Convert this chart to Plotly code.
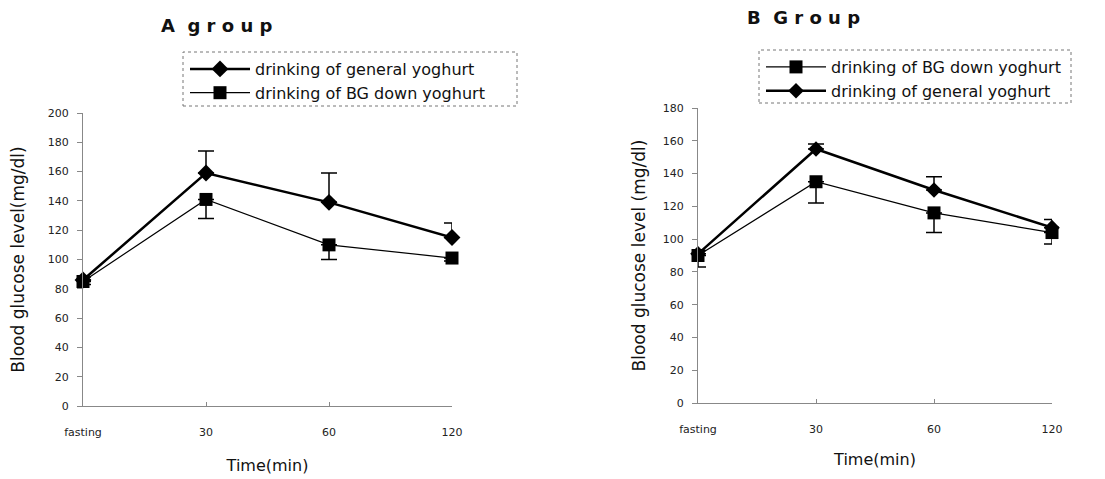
import plotly.graph_objects as go

time_labels = ["fasting", "30", "60", "120"]
x_pos = [0, 1, 2, 3]

# A group
a_general = [86, 159, 139, 115]
a_general_err_up = [2, 15, 20, 10]
a_bg = [85, 141, 110, 101]
a_bg_err_down = [2, 13, 10, 2]

# B group
b_bg = [90, 135, 116, 104]
b_bg_err_down = [7, 13, 12, 7]
b_general = [91, 155, 130, 107]
b_general_err_up = [2, 3, 8, 5]

fig = go.Figure()

def add(x, y, name, symbol, lw, msize, xa, ya, legend, up=None, down=None):
    err = dict(type="data", symmetric=False, color="black", thickness=1.5, width=8,
               array=up if up else [0]*len(y), arrayminus=down if down else [0]*len(y))
    fig.add_trace(go.Scatter(
        x=x, y=y, name=name, mode="lines+markers", xaxis=xa, yaxis=ya, legend=legend,
        line=dict(color="black", width=lw),
        marker=dict(symbol=symbol, size=msize, color="black"),
        error_y=err, cliponaxis=False))

add(x_pos, a_general, "drinking of general yoghurt", "diamond", 2.5, 13, "x", "y", "legend", up=a_general_err_up)
add(x_pos, a_bg, "drinking of BG down yoghurt", "square", 1.2, 13, "x", "y", "legend", down=a_bg_err_down)
add(x_pos, b_bg, "drinking of BG down yoghurt", "square", 1.2, 13, "x2", "y2", "legend2", down=b_bg_err_down)
add(x_pos, b_general, "drinking of general yoghurt", "diamond", 2.5, 12, "x2", "y2", "legend2", up=b_general_err_up)

FONT = "DejaVu Sans"
axfont = dict(family=FONT, size=11, color="#222")
xcommon = dict(range=[0, 3], tickvals=x_pos, ticktext=time_labels, showgrid=False, zeroline=False,
               showline=True, linecolor="#888", linewidth=1, ticks="inside", ticklen=4, tickcolor="#888",
               tickfont=axfont, ticklabelstandoff=16, automargin=False)
ycommon = dict(showgrid=False, zeroline=False, showline=True, linecolor="#888", linewidth=1,
               ticks="outside", ticklen=5, tickcolor="#888", tickfont=axfont, dtick=20,
               ticklabelstandoff=6, automargin=False)

fig.update_layout(
    width=1105, height=479, margin=dict(l=0, r=0, t=0, b=0),
    paper_bgcolor="white", plot_bgcolor="white", showlegend=True,
    xaxis=dict(domain=[83/1105, 452/1105], anchor="y",
               title=dict(text="Time(min)", font=dict(family=FONT, size=16, color="#111"), standoff=21),
               **xcommon),
    yaxis=dict(domain=[1-406/479, 1-113/479], anchor="x", range=[0, 200],
               title=dict(text="Blood glucose level(mg/dl)", font=dict(family=FONT, size=17, color="#111"), standoff=18),
               **ycommon),
    xaxis2=dict(domain=[698/1105, 1052/1105], anchor="y2",
                title=dict(text="Time(min)", font=dict(family=FONT, size=16, color="#111"), standoff=18),
                **xcommon),
    yaxis2=dict(domain=[1-403/479, 1-108/479], anchor="x2", range=[0, 180],
                title=dict(text="Blood glucose level (mg/dl)", font=dict(family=FONT, size=17, color="#111"), standoff=12),
                **ycommon),
    legend=dict(x=185/1105, y=1-52/479, xanchor="left", yanchor="top",
                font=dict(family=FONT, size=16, color="#111"), bgcolor="rgba(0,0,0,0)",
                tracegroupgap=0, itemwidth=60),
    legend2=dict(x=761/1105, y=1-50/479, xanchor="left", yanchor="top",
                 font=dict(family=FONT, size=16, color="#111"), bgcolor="rgba(0,0,0,0)",
                 tracegroupgap=0, itemwidth=60),
    annotations=[
        dict(text="<b>A  g r o u p</b>", x=216/1105, y=1-25/479, xref="paper", yref="paper",
             xanchor="center", yanchor="middle",
             showarrow=False, font=dict(family=FONT, size=18, color="#111")),
        dict(text="<b>B  G r o u p</b>", x=803/1105, y=1-17/479, xref="paper", yref="paper",
             xanchor="center", yanchor="middle",
             showarrow=False, font=dict(family=FONT, size=18, color="#111")),
    ],
    shapes=[
        dict(type="rect", xref="paper", yref="paper", x0=183/1105, x1=517/1105, y0=1-106/479, y1=1-52/479,
             line=dict(color="#777", width=1, dash="dot")),
        dict(type="rect", xref="paper", yref="paper", x0=759/1105, x1=1071/1105, y0=1-103/479, y1=1-50/479,
             line=dict(color="#777", width=1, dash="dot")),
    ],
)

fig.write_html("out.html", config={"displayModeBar": False},
               post_script="document.body.style.margin='0';document.body.style.overflow='hidden';")
